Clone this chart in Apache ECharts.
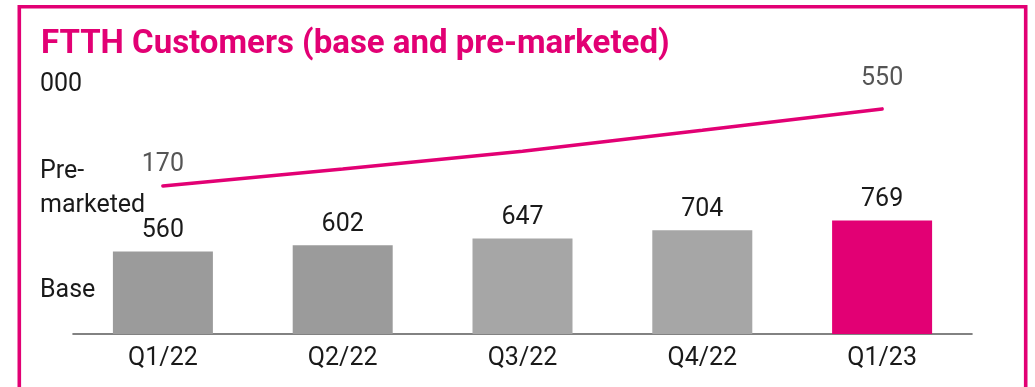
<!DOCTYPE html>
<html>
<head>
<meta charset="utf-8">
<script src="https://cdn.jsdelivr.net/npm/echarts@6/dist/echarts.min.js"></script>
<style>
  html, body { margin: 0; padding: 0; background: #ffffff; }
  #chart { width: 1035px; height: 387px; }
</style>
</head>
<body>
<div id="chart"></div>
<script>
// FTTH customers in thousands, per quarter
const categories = ['Q1/22', 'Q2/22', 'Q3/22', 'Q4/22', 'Q1/23'];
const baseValues = [560, 602, 647, 704, 769];
const preMarketedValues = [170, 254, 341, 445, 550];
const barColors = ['#9b9b9b', '#9b9b9b', '#a6a6a6', '#a6a6a6', '#e20074'];

const MAGENTA = '#e20074';
const FONT = 'Roboto, "Noto Sans", sans-serif';

const chart = echarts.init(document.getElementById('chart'), null, { renderer: 'canvas' });

const lastIdx = preMarketedValues.length - 1;
const lineData = preMarketedValues.map((v, i) => {
  const item = { value: v, label: { show: false } };
  if (i === 0) item.label = { show: true, distance: 8 };
  if (i === lastIdx) item.label = { show: true, distance: 17 };
  return item;
});

chart.setOption({
  animation: false,
  backgroundColor: '#ffffff',
  title: {
    text: 'FTTH Customers (base and pre-marketed)',
    left: 41,
    top: 28,
    padding: 0,
    textStyle: { color: MAGENTA, fontSize: 33, fontWeight: 'bold', fontFamily: FONT }
  },
  graphic: [
    {
      type: 'rect',
      shape: { x: 19.3, y: 6.7, width: 1006.4, height: 500 },
      style: { fill: 'none', stroke: MAGENTA, lineWidth: 3.6 },
      silent: true
    },
    {
      type: 'text', left: 40, top: 72,
      style: { text: '000', font: '25px ' + FONT, fill: '#1a1a1a' }
    },
    {
      type: 'text', left: 40, top: 155,
      style: { text: 'Pre-\nmarketed', font: '25px ' + FONT, fill: '#1a1a1a', lineHeight: 34 }
    },
    {
      type: 'text', left: 40, top: 278,
      style: { text: 'Base', font: '25px ' + FONT, fill: '#1a1a1a' }
    }
  ],
  grid: [
    { left: 73, right: 63, top: 186.5, bottom: 53 },
    { left: 73, right: 63, top: 98.8, bottom: 166.6 }
  ],
  xAxis: [
    {
      type: 'category', gridIndex: 0, data: categories,
      axisLine: { lineStyle: { color: '#5a5a5a', width: 1.6 } },
      axisTick: { show: false },
      axisLabel: { fontSize: 25, color: '#1a1a1a', fontFamily: FONT, margin: 12 }
    },
    { type: 'category', gridIndex: 1, data: categories, show: false }
  ],
  yAxis: [
    { type: 'value', gridIndex: 0, min: 0, max: 1000, show: false, splitLine: { show: false } },
    { type: 'value', gridIndex: 1, min: 0, max: 600, show: false, splitLine: { show: false } }
  ],
  series: [
    {
      name: 'Base', type: 'bar', xAxisIndex: 0, yAxisIndex: 0,
      barWidth: 100,
      data: baseValues.map((v, i) => ({ value: v, itemStyle: { color: barColors[i] } })),
      label: {
        show: true, position: 'top', distance: 8,
        fontSize: 25, color: '#1a1a1a', fontFamily: FONT
      }
    },
    {
      name: 'Pre-marketed', type: 'line', xAxisIndex: 1, yAxisIndex: 1,
      data: lineData,
      symbol: 'circle', symbolSize: 1,
      itemStyle: { color: MAGENTA },
      lineStyle: { color: MAGENTA, width: 3.6, cap: 'round' },
      label: { position: 'top', fontSize: 25, color: '#555555', fontFamily: FONT }
    }
  ]
});
</script>
</body>
</html>
